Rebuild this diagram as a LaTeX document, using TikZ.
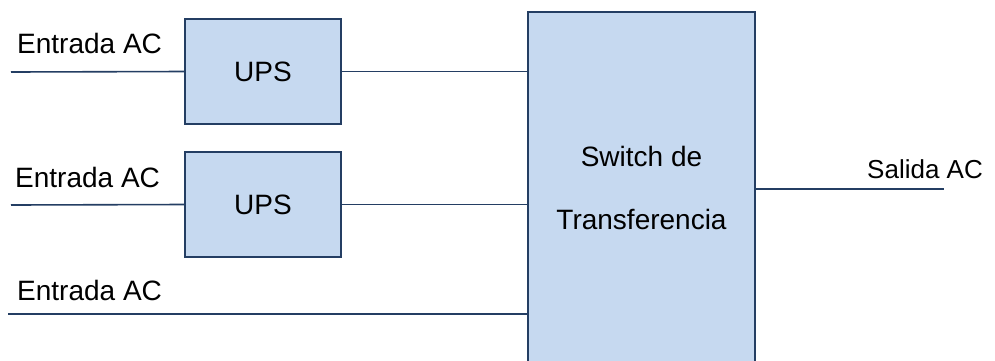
\documentclass[tikz,border=0pt]{standalone}
\usepackage{fontspec}
\setmainfont{Liberation Sans}
\definecolor{boxfill}{RGB}{198,217,240}
\definecolor{boxline}{RGB}{36,62,99}
\begin{document}
\begin{tikzpicture}[x=1pt,y=-1pt,
  blk/.style={draw=boxline,fill=boxfill,line width=2pt,inner sep=0pt},
  wire/.style={draw=boxline,line width=1.6pt},
  lbl/.style={font=\fontsize{28}{34}\selectfont,inner sep=0pt,text=black}]
\useasboundingbox (0,0) rectangle (995,360);
\node[blk,minimum width=156pt,minimum height=105pt,lbl] (ups1) at (263,71.5) {UPS};
\node[blk,minimum width=156pt,minimum height=105pt,lbl] (ups2) at (263,204.5) {UPS};
\node[blk,minimum width=227pt,minimum height=352pt,align=center,
  font=\fontsize{28}{63}\selectfont] (sw) at (641.5,188) {Switch de\\Transferencia};
\coordinate (in1) at (11,72);
\coordinate (in2) at (11,205);
\coordinate (in3) at (8,314);
\coordinate (out) at (944,189);
\draw[wire] (in1) -- (ups1.west);
\draw[wire] (ups1.east) -- (sw.west |- ups1.east);
\draw[wire] (in2) -- (ups2.west);
\draw[wire] (ups2.east) -- (sw.west |- ups2.east);
\draw[wire] (in3) -- (sw.west |- in3);
\draw[wire] (sw.east |- out) -- (out);
\node[lbl,anchor=base west] (t1) at (17,53) {Entrada AC};
\node[lbl,anchor=base west] (t2) at (15,187) {Entrada AC};
\node[lbl,anchor=base west] (t3) at (17,300) {Entrada AC};
\node[lbl,anchor=base west,font=\fontsize{26}{32}\selectfont] (t4) at (867,178) {Salida AC};
\end{tikzpicture}
\end{document}
